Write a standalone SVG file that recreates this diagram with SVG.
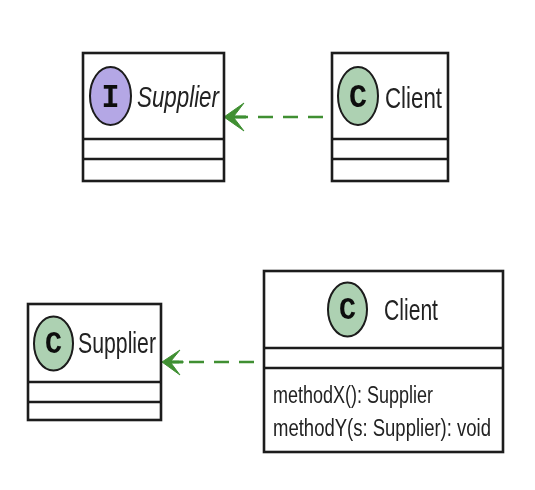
<svg xmlns="http://www.w3.org/2000/svg" width="535" height="490" viewBox="0 0 535 490">
<defs>
<filter id="soft" filterUnits="userSpaceOnUse" x="0" y="0" width="535" height="490"><feGaussianBlur stdDeviation="0.6"/></filter>
<style>
.box{fill:#fff;stroke:#1a1a1a;stroke-width:2.6}
.sep{fill:none;stroke:#1a1a1a;stroke-width:2.6}
.circ{fill:#add1b2;stroke:#1a1a1a;stroke-width:2}
.circi{fill:#b4a7e5;stroke:#1a1a1a;stroke-width:2}
.t{font-family:"Liberation Sans",Arial,sans-serif;fill:#222}
.g{font-family:"Liberation Mono","DejaVu Sans Mono",monospace;font-weight:bold;fill:#111;text-anchor:middle}
.dash{fill:none;stroke:#3f8f32;stroke-width:2.4;stroke-dasharray:15 10}
.arr{fill:#3f8f32;stroke:#3f8f32;stroke-width:1}
</style>
</defs>
<rect width="535" height="490" fill="#fff"/>
<g filter="url(#soft)">
<g id="connectors">
<path class="dash" d="M323 117H233"/>
<path class="arr" d="M224 117L244 103L234 116H246V118H234L244 131Z"/>
<path class="dash" d="M254 362H169"/>
<path class="arr" d="M162 362L180 350L171 361H183V363H171L180 375Z"/>
</g>
<g id="supplier-interface">
<rect class="box" x="83" y="53" width="141" height="128"/>
<path class="sep" d="M83 139H224M83 159H224"/>
<ellipse class="circi" cx="110.500" cy="96" rx="20.500" ry="29"/>
<text class="g" x="110.500" y="107" font-size="34" textLength="18" lengthAdjust="spacingAndGlyphs">I</text>
<text class="t" x="137" y="107" font-size="30" font-style="italic" textLength="82" lengthAdjust="spacingAndGlyphs">Supplier</text>
</g>
<g id="client-top">
<rect class="box" x="332" y="53" width="116" height="128"/>
<path class="sep" d="M332 139H448M332 159H448"/>
<ellipse class="circ" cx="358" cy="96" rx="20" ry="29"/>
<text class="g" x="358" y="107" font-size="34" textLength="18" lengthAdjust="spacingAndGlyphs">C</text>
<text class="t" x="385" y="108" font-size="30" textLength="57" lengthAdjust="spacingAndGlyphs">Client</text>
</g>
<g id="supplier-class">
<rect class="box" x="28" y="304" width="133" height="116"/>
<path class="sep" d="M28 382H161M28 402H161"/>
<ellipse class="circ" cx="53.500" cy="343.500" rx="19.500" ry="27"/>
<text class="g" x="53.500" y="353" font-size="32" textLength="17" lengthAdjust="spacingAndGlyphs">C</text>
<text class="t" x="78" y="353" font-size="29" textLength="78" lengthAdjust="spacingAndGlyphs">Supplier</text>
</g>
<g id="client-bottom">
<rect class="box" x="264" y="271" width="239" height="181"/>
<path class="sep" d="M264 348H503M264 368H503"/>
<ellipse class="circ" cx="347.500" cy="309.500" rx="19.500" ry="27"/>
<text class="g" x="347.500" y="319" font-size="32" textLength="17" lengthAdjust="spacingAndGlyphs">C</text>
<text class="t" x="384" y="320" font-size="29" textLength="54" lengthAdjust="spacingAndGlyphs">Client</text>
<text class="t" transform="translate(273 403) scale(1 1.15)" font-size="20" textLength="160" lengthAdjust="spacingAndGlyphs">methodX(): Supplier</text>
<text class="t" transform="translate(273 436) scale(1 1.15)" font-size="20" textLength="218" lengthAdjust="spacingAndGlyphs">methodY(s: Supplier): void</text>
</g>
</g>
</svg>
